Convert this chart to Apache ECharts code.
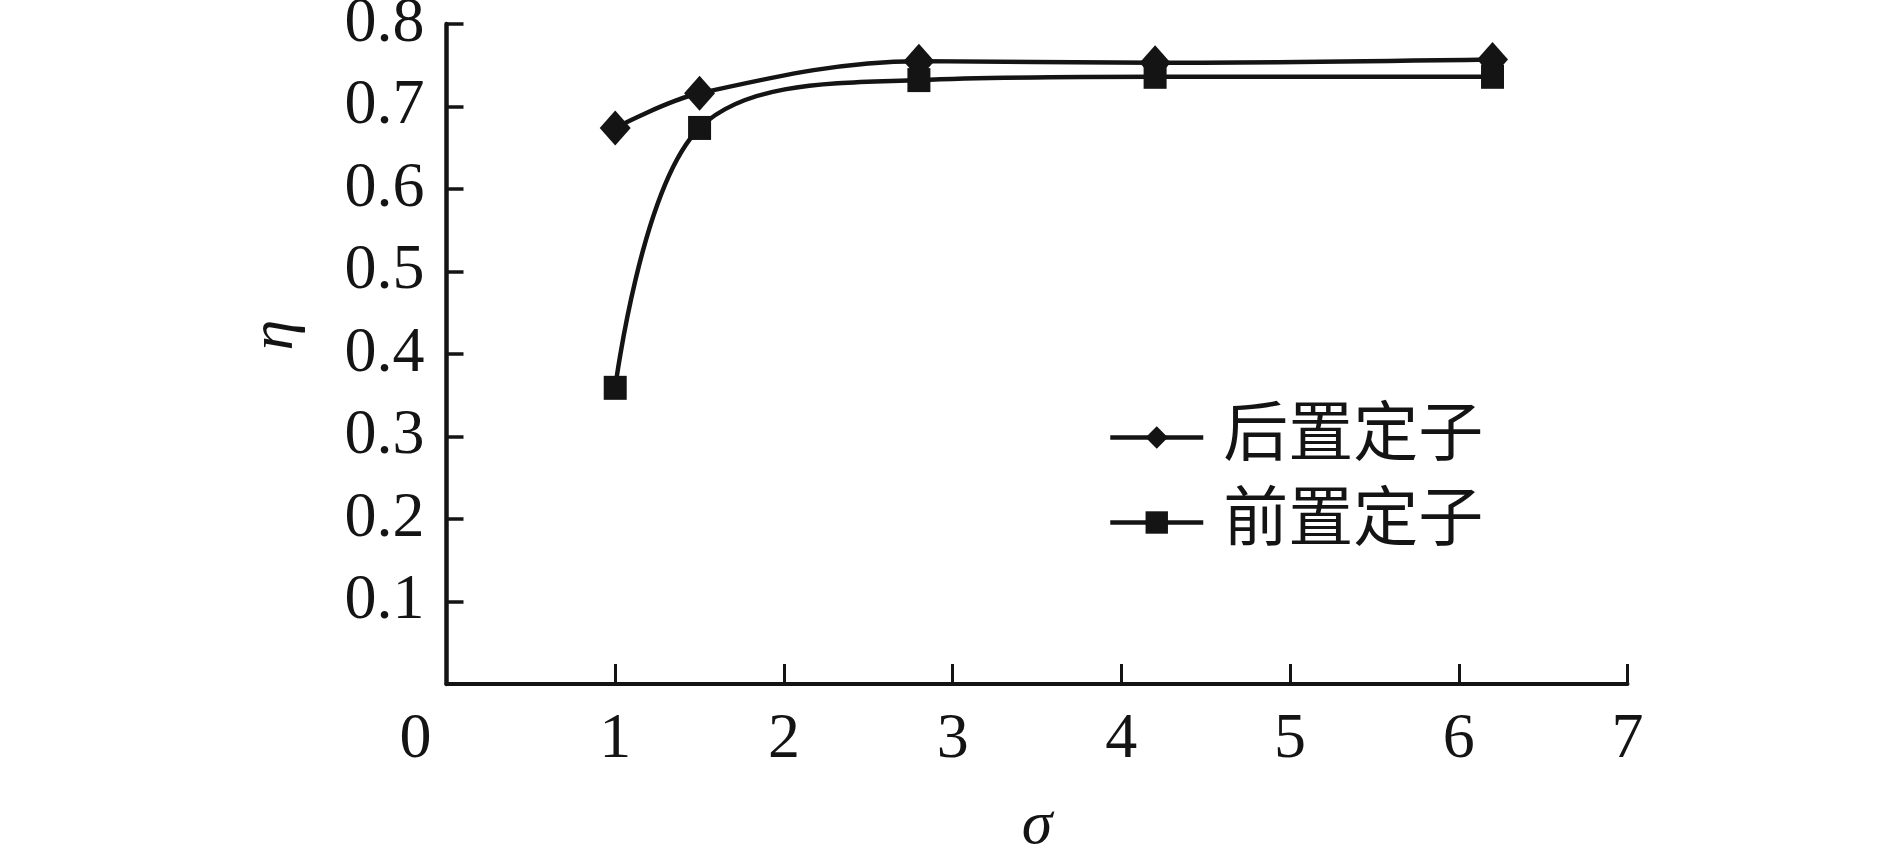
<!DOCTYPE html>
<html>
<head>
<meta charset="utf-8">
<script src="https://cdn.jsdelivr.net/npm/echarts@6/dist/echarts.min.js"></script>
<style>
    html, body { margin: 0; padding: 0; background: #fff; }
    #main { width: 1889px; height: 852px; }
</style>
</head>
<body>
<div id="main"></div>
<script>
// 数据
var sigma = [1, 1.5, 2.8, 4.2, 6.2];
var rearStator = [0.674, 0.716, 0.755, 0.753, 0.757];   // 后置定子
var frontStator = [0.359, 0.674, 0.732, 0.736, 0.736];  // 前置定子
var seriesNames = ['后置定子', '前置定子'];

var serif = '"Liberation Serif", "Noto Sans CJK SC", serif';
var ink = '#141414';

function pairs(xs, ys) {
    return xs.map(function (x, i) { return [x, ys[i]]; });
}

var myChart = echarts.init(document.getElementById('main'), null, { renderer: 'canvas' });

var option = {
    backgroundColor: '#fff',
    animation: false,
    grid: {
        left: 446.5, right: 261.5, top: 24, bottom: 168,
        containLabel: false,
        outerBoundsMode: 'none'
    },
    legend: {
        orient: 'vertical',
        left: 1103,
        top: 400,
        itemWidth: 93,
        itemHeight: 28,
        itemGap: 20,
        data: seriesNames,
        lineStyle: { width: 4.5, color: ink },
        textStyle: {
            fontFamily: serif,
            fontSize: 65,
            lineHeight: 65,
            color: ink,
            padding: [0, 0, 0, 15]
        }
    },
    xAxis: {
        type: 'value',
        min: 0,
        max: 7,
        interval: 1,
        name: 'σ',
        nameLocation: 'middle',
        nameGap: 112,
        nameTextStyle: { fontFamily: serif, fontStyle: 'italic', fontSize: 62, color: ink },
        splitLine: { show: false },
        axisLine: { lineStyle: { color: ink, width: 4 } },
        axisTick: { inside: true, length: 20, lineStyle: { color: ink, width: 3 } },
        axisLabel: {
            margin: 24,
            fontFamily: serif,
            fontSize: 64,
            color: ink,
            formatter: function (v) { return v === 0 ? '{z|0}' : String(v); },
            rich: { z: { fontFamily: serif, fontSize: 64, color: ink, padding: [0, 62, 0, 0] } }
        }
    },
    yAxis: {
        type: 'value',
        min: 0,
        max: 0.8,
        interval: 0.1,
        name: 'η',
        nameLocation: 'middle',
        nameGap: 140,
        nameTextStyle: { fontFamily: serif, fontStyle: 'italic', fontSize: 62, color: ink, padding: [0, 0, 0, 38] },
        splitLine: { show: false },
        axisLine: { lineStyle: { color: ink, width: 4.5 } },
        axisTick: { inside: true, length: 17, lineStyle: { color: ink, width: 3.5 } },
        axisLabel: {
            margin: 22,
            fontFamily: serif,
            fontSize: 64,
            color: ink,
            formatter: function (v) { return v === 0 ? '' : v.toFixed(1); }
        }
    },
    series: [
        {
            name: seriesNames[0],
            type: 'line',
            smooth: 0.35,
            data: pairs(sigma, rearStator),
            symbol: 'diamond',
            symbolSize: [31, 35],
            lineStyle: { color: ink, width: 4.5 },
            itemStyle: { color: ink }
        },
        {
            name: seriesNames[1],
            type: 'line',
            smooth: 0.35,
            data: pairs(sigma, frontStator),
            symbol: 'rect',
            symbolSize: [23, 24],
            lineStyle: { color: ink, width: 4.5 },
            itemStyle: { color: ink }
        }
    ]
};

myChart.setOption(option);
</script>
</body>
</html>
